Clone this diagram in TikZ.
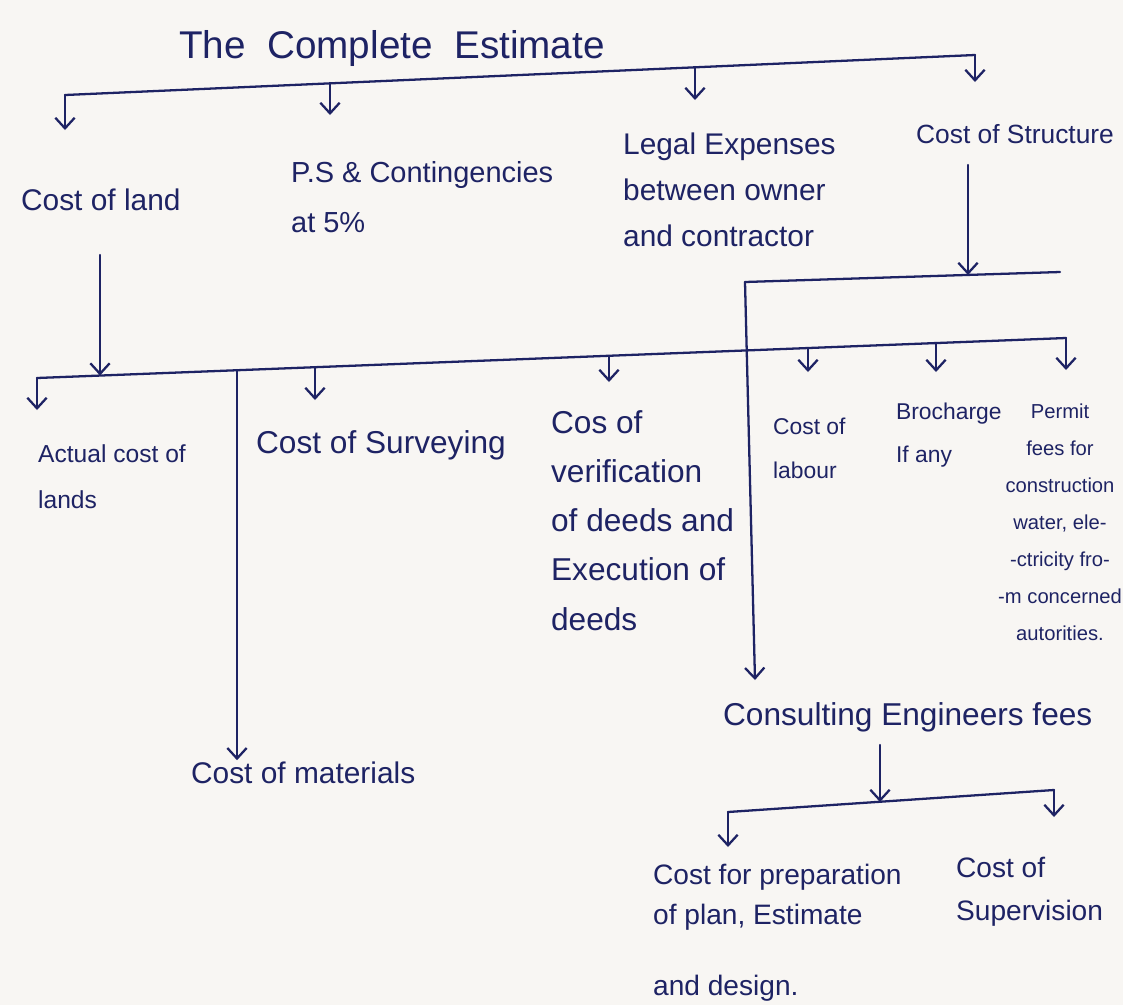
\documentclass[tikz,border=0pt]{standalone}
\usepackage{fontspec}
\setmainfont{Liberation Sans}
\usetikzlibrary{arrows.meta}
\definecolor{ink}{RGB}{30,35,100}
\definecolor{paper}{RGB}{248,246,243}
\tikzset{
  arr/.style={-{Straight Barb[length=6pt,width=11pt]}},
  lbl/.style={inner sep=0pt, anchor=base west, align=left, text=ink,
    font=\fontsize{17}{26}\selectfont},
  lblsmall/.style={lbl, font=\fontsize{13}{25}\selectfont},
}
\begin{document}
\begin{tikzpicture}[x=0.02cm, y=-0.02cm, line width=1.3pt, line cap=round, line join=round, color=ink]
  \fill[paper] (0,0) rectangle (1123,1005);
  \useasboundingbox (0,0) rectangle (1123,1005);

  \coordinate (tb-land) at (65,95);
  \coordinate (tb-ps) at (330,83);
  \coordinate (tb-legal) at (695,67);
  \coordinate (tb-struct) at (975,55);
  \coordinate (tip-land) at (65,130);
  \coordinate (tip-ps) at (330,115);
  \coordinate (tip-legal) at (695,100);
  \coordinate (tip-struct) at (975,82);

  \coordinate (land-out) at (100,255);
  \coordinate (mb-actual) at (37,378);
  \coordinate (mb-land) at (100,375.5);
  \coordinate (mb-mat) at (237,370);
  \coordinate (mb-survey) at (315,367);
  \coordinate (mb-verif) at (609,356);
  \coordinate (mb-labour) at (808,348);
  \coordinate (mb-broch) at (936,343);
  \coordinate (mb-permit) at (1066,338);
  \coordinate (tip-actual) at (37,410);
  \coordinate (tip-survey) at (315,400);
  \coordinate (tip-verif) at (609,382);
  \coordinate (tip-labour) at (808,372);
  \coordinate (tip-broch) at (936,372);
  \coordinate (tip-permit) at (1066,370);

  \coordinate (struct-out) at (968,165);
  \coordinate (sb-left) at (745,282);
  \coordinate (sb-mid) at (968,275);
  \coordinate (sb-right) at (1060,272);
  \coordinate (tip-consult) at (755,680);

  \coordinate (consult-out) at (880,745);
  \coordinate (bb-prep) at (728,812);
  \coordinate (bb-mid) at (880,802);
  \coordinate (bb-superv) at (1054,790);
  \coordinate (tip-prep) at (728,847);
  \coordinate (tip-superv) at (1054,817);

  \node[lbl, anchor=base, font=\fontsize{22}{26}\selectfont] (title) at (392,58) {The\ \ Complete\ \ Estimate};
  \node[lbl] (land) at (20,210) {Cost of land};
  \node[lbl, font=\fontsize{16.5}{28}\selectfont] (ps) at (290,232) {P.S \& Contingencies\\at 5\%};
  \node[lbl] (legal) at (622,246) {Legal Expenses\\between owner\\and contractor};
  \node[lbl, font=\fontsize{15}{24}\selectfont] (struct) at (915,143) {Cost of Structure};

  \node[lblsmall, font=\fontsize{14}{26}\selectfont] (actual) at (37,508) {Actual cost of\\lands};
  \node[lbl, font=\fontsize{18}{26}\selectfont] (survey) at (255,453) {Cost of Surveying};
  \node[lbl, font=\fontsize{18}{28}\selectfont] (verif) at (550,630) {Cos of\\verification\\of deeds and\\Execution of\\deeds};
  \node[lblsmall] (labour) at (772,478) {Cost of\\labour};
  \node[lblsmall, font=\fontsize{13}{24}\selectfont] (broch) at (895,462) {Brocharge\\If any};
  \node[lblsmall, anchor=base, align=center, font=\fontsize{11.5}{21}\selectfont] (permit) at (1060,640)
    {Permit\\fees for\\construction\\water, ele-\\-ctricity fro-\\-m concerned\\autorities.};

  \node[lbl] (mat) at (190,783) {Cost of materials};
  \node[lbl, font=\fontsize{18}{26}\selectfont] (consult) at (722,725) {Consulting Engineers fees};
  \node[lbl, font=\fontsize{16}{23}\selectfont] (prep) at (652,995) {Cost for preparation\\of plan, Estimate\\[17pt]and design.};
  \node[lbl, font=\fontsize{16}{24}\selectfont] (superv) at (955,920) {Cost of\\Supervision};

  \draw (tb-land) -- (tb-struct);
  \draw[arr] (tb-land) -- (tip-land);
  \draw[arr] (tb-ps) -- (tip-ps);
  \draw[arr] (tb-legal) -- (tip-legal);
  \draw[arr] (tb-struct) -- (tip-struct);

  \draw[arr] (land-out) -- (mb-land);
  \draw (mb-actual) -- (mb-permit);
  \draw[arr] (mb-actual) -- (tip-actual);
  \draw[arr] (mb-mat) -- (mb-mat |- mat.north);
  \draw[arr] (mb-survey) -- (tip-survey);
  \draw[arr] (mb-verif) -- (tip-verif);
  \draw[arr] (mb-labour) -- (tip-labour);
  \draw[arr] (mb-broch) -- (tip-broch);
  \draw[arr] (mb-permit) -- (tip-permit);

  \draw[arr] (struct-out) -- (sb-mid);
  \draw (sb-left) -- (sb-right);
  \draw[arr] (sb-left) -- (tip-consult);

  \draw[arr] (consult-out) -- (bb-mid);
  \draw (bb-prep) -- (bb-superv);
  \draw[arr] (bb-prep) -- (tip-prep);
  \draw[arr] (bb-superv) -- (tip-superv);
\end{tikzpicture}
\end{document}
